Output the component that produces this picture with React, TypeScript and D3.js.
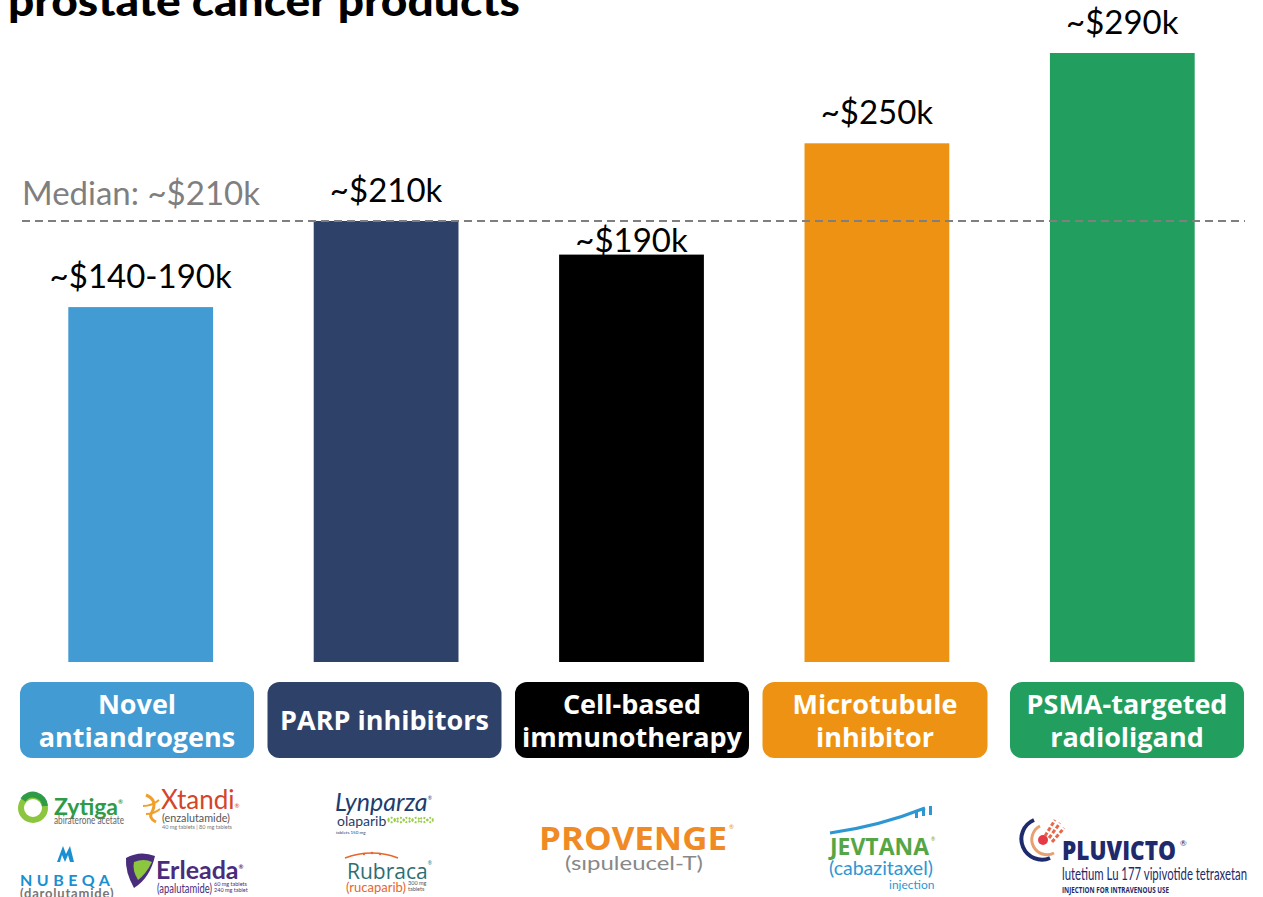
import React from "react";
import * as d3 from "d3";

const W = 1263;
const H = 897;

const categories = ["Novel antiandrogens", "PARP inhibitors", "Cell-based immunotherapy", "Microtubule inhibitor", "PSMA-targeted radioligand"];
const categoryLines = [["Novel", "antiandrogens"], ["PARP inhibitors"], ["Cell-based", "immunotherapy"], ["Microtubule", "inhibitor"], ["PSMA-targeted", "radioligand"]];
const values = [169, 210, 194, 247, 290];
const valueLabels = ["~$140-190k", "~$210k", "~$190k", "~$250k", "~$290k"];
const colors = ["#429bd2", "#2e4169", "#000000", "#ee9213", "#229f5f"];
const medianValue = 210;
const medianLabel = "Median: ~$210k";
const title = "prostate cancer products";

const FONT = "Lato, 'Open Sans', sans-serif";
const BOLD = "'Open Sans', Lato, sans-serif";

export default function App() {
  const y = d3.scaleLinear().domain([0, 300]).range([662, 32]);
  const x = d3.scaleBand<string>().domain(categories).range([18, 1245]).paddingInner(0.41).paddingOuter(0.205);
  const bx = d3.scaleBand<string>().domain(categories).range([20, 1244]).paddingInner(0.0545).paddingOuter(0);
  const my = y(medianValue);

  return (
    <svg width={W} height={H} style={{ position: "absolute", left: 0, top: 0, display: "block", background: "#fff" }}>
      <text x={8} y={16} fontFamily={FONT} fontWeight={900} fontSize={42} fill="#000" textLength={512} lengthAdjust="spacingAndGlyphs">{title}</text>

      {categories.map((c, i) => (
        <rect key={c} x={x(c)} y={y(values[i])} width={x.bandwidth()} height={y(0) - y(values[i])} fill={colors[i]} />
      ))}

      <line x1={22} x2={1245} y1={my} y2={my} stroke="#7f7f7f" strokeWidth={2} strokeDasharray="8,5" />
      <text x={22} y={my - 16} fontFamily={FONT} fontSize={33} fill="#7f7f7f">{medianLabel}</text>

      {categories.map((c, i) => (
        <text key={c} x={(x(c) as number) + x.bandwidth() / 2} y={y(values[i]) - (i === 2 ? 3 : 19)} textAnchor="middle" fontFamily={FONT} fontSize={33} fill="#000">
          {valueLabels[i]}
        </text>
      ))}

      {categories.map((c, i) => {
        const x0 = bx(c) as number;
        const w = i === 3 ? bx.bandwidth() - 9 : bx.bandwidth();
        const cx = x0 + w / 2;
        const lines = categoryLines[i];
        return (
          <g key={c}>
            <rect x={x0} y={682} width={w} height={76} rx={12} fill={colors[i]} />
            {lines.map((l, j) => (
              <text key={j} x={cx} y={lines.length === 1 ? 730 : 714 + j * 33} textAnchor="middle" fontFamily={BOLD} fontWeight={700} fontSize={27} fill="#fff">
                {l}
              </text>
            ))}
          </g>
        );
      })}

      {/* Logos */}
      <g>
        {/* Zytiga */}
        <circle cx={33} cy={808} r={12} fill="none" stroke="#8cc63e" strokeWidth={6} />
        <path d="M23,800 A12,12 0 0 1 45,806" fill="none" stroke="#2e9b47" strokeWidth={6} />
        <text x={54} y={815} fontFamily={FONT} fontWeight={700} fontSize={23} fill="#2e9b47">Zytiga<tspan fontSize={6} dy={-11}>®</tspan></text>
        <text x={54} y={824} fontFamily={FONT} fontSize={10.5} fill="#666" textLength={70} lengthAdjust="spacingAndGlyphs">abiraterone acetate</text>

        {/* Xtandi */}
        <path d="M146,795 Q158,800 152,812 Q148,818 156,822" fill="none" stroke="#f0a02a" strokeWidth={3} />
        <path d="M143,806 Q152,806 159,800" fill="none" stroke="#f0a02a" strokeWidth={2} />
        <path d="M146,814 Q154,814 160,809" fill="none" stroke="#f0a02a" strokeWidth={2} />
        <text x={161} y={809} fontFamily={FONT} fontSize={26} fill="#d4452a">Xtandi<tspan fontSize={6} dy={-1}>®</tspan></text>
        <text x={162} y={822} fontFamily={FONT} fontSize={12} fill="#555" textLength={68} lengthAdjust="spacingAndGlyphs">(enzalutamide)</text>
        <text x={162} y={829} fontFamily={FONT} fontSize={5.5} fill="#777">40 mg tablets | 80 mg tablets</text>

        {/* NUBEQA */}
        <path d="M57,862 L63,846 L66,854 L70,846 L74,862 L70,862 L68,855 L65,862 L62,855 L60,862 Z" fill="#1a8fd1" />
        <text x={20} y={886} fontFamily={FONT} fontWeight={700} fontSize={16} fill="#1a8fd1" letterSpacing={4.5}>NUBEQA</text>
        <text x={20} y={898} fontFamily={FONT} fontWeight={700} fontSize={13} fill="#777" letterSpacing={0.8}>(darolutamide)</text>

        {/* Erleada */}
        <path d="M126,858 Q140,850 155,856 Q150,878 134,888 Q125,872 126,858 Z" fill="#4a2c7d" />
        <path d="M134,862 Q144,858 152,862 Q146,874 138,880 Q132,870 134,862 Z" fill="#8cc63e" />
        <text x={156} y={879} fontFamily={FONT} fontWeight={700} fontSize={25} fill="#4a2c7d">Erleada<tspan fontSize={6} dy={-10}>®</tspan></text>
        <text x={157} y={893} fontFamily={FONT} fontSize={13} fill="#4a2c7d" textLength={55} lengthAdjust="spacingAndGlyphs">(apalutamide)</text>
        <text x={214} y={886} fontFamily={FONT} fontSize={5.5} fill="#4a2c7d">60 mg tablets</text>
        <text x={214} y={892} fontFamily={FONT} fontSize={5.5} fill="#4a2c7d">240 mg tablet</text>

        {/* Lynparza */}
        <text x={335} y={811} fontFamily={FONT} fontStyle="italic" fontSize={25} fill="#1d3e6e">Lynparza<tspan fontSize={5} dy={-11}>®</tspan></text>
        <text x={337} y={826} fontFamily={FONT} fontSize={14} fill="#1d3e6e">olaparib</text>
        <path d="M388,820 C393,812 398,828 404,820 C409,812 414,828 420,820 C425,812 430,828 433,820" fill="none" stroke="#9acd4b" strokeWidth={2} strokeDasharray="2,1.5" />
        <path d="M388,820 C393,828 398,812 404,820 C409,828 414,812 420,820 C425,828 430,812 433,820" fill="none" stroke="#9acd4b" strokeWidth={2} strokeDasharray="2,1.5" />
        <text x={336} y={834} fontFamily={FONT} fontSize={4.5} fill="#1d3e6e">tablets 150 mg</text>

        {/* Rubraca */}
        <path d="M345,858 Q372,848 398,858" fill="none" stroke="#e8662b" strokeWidth={1.5} />
        <circle cx={372} cy={853} r={1.2} fill="#e8662b" />
        <circle cx={364} cy={854} r={1.2} fill="#e8662b" />
        <circle cx={380} cy={854} r={1.2} fill="#e8662b" />
        <text x={347} y={879} fontFamily={BOLD} fontSize={21} fill="#2d6e74">Rubraca<tspan fontSize={5} dy={-14}>®</tspan></text>
        <text x={346} y={892} fontFamily={FONT} fontSize={13} fill="#e8662b">(rucaparib)</text>
        <text x={408} y={885} fontFamily={FONT} fontSize={5.5} fill="#555">300 mg</text>
        <text x={408} y={891} fontFamily={FONT} fontSize={5.5} fill="#555">tablets</text>

        {/* Provenge */}
        <text x={539} y={850} fontFamily={BOLD} fontWeight={700} fontSize={33} fill="#f08a24" textLength={188} lengthAdjust="spacingAndGlyphs">PROVENGE</text>
        <text x={729} y={829} fontFamily={FONT} fontSize={6} fill="#f08a24">®</text>
        <text x={565} y={870} fontFamily={FONT} fontSize={20} fill="#888" textLength={138} lengthAdjust="spacingAndGlyphs">(sıpuleucel-T)</text>

        {/* Jevtana */}
        <path d="M830,833 Q880,826 925,808" fill="none" stroke="#2d97d3" strokeWidth={3} />
        <rect x={915} y={811} width={3} height={7} fill="#2d97d3" />
        <rect x={922} y={808} width={3} height={8} fill="#2d97d3" />
        <rect x={929} y={806} width={3} height={9} fill="#2d97d3" />
        <text x={830} y={855} fontFamily={BOLD} fontWeight={700} fontSize={24} fill="#55a647" textLength={99} lengthAdjust="spacingAndGlyphs">JEVTANA</text>
        <text x={931} y={841} fontFamily={FONT} fontSize={5} fill="#55a647">®</text>
        <text x={829} y={875} fontFamily={FONT} fontSize={20} fill="#2d97d3" textLength={104} lengthAdjust="spacingAndGlyphs">(cabazitaxel)</text>
        <text x={889} y={889} fontFamily={FONT} fontSize={12} fill="#2d97d3">injection</text>

        {/* Pluvicto */}
        <path d="M1034,820 A18,18 0 0 0 1050,858" fill="none" stroke="#1e2a6b" strokeWidth={4} />
        <path d="M1040,826 A13,13 0 0 0 1054,853" fill="none" stroke="#e8a070" strokeWidth={3} />
        <circle cx={1043} cy={840} r={5} fill="#e63946" />
        <path d="M1045,836 L1055,820 M1049,838 L1060,823 M1052,842 L1064,828" stroke="#e8664a" strokeWidth={3} strokeDasharray="4,2" />
        <text x={1062} y={860} fontFamily={BOLD} fontWeight={800} fontSize={26} fill="#1e2a6b" textLength={114} lengthAdjust="spacingAndGlyphs">PLUVICTO</text>
        <text x={1180} y={846} fontFamily={FONT} fontSize={8} fill="#1e2a6b">®</text>
        <text x={1062} y={880} fontFamily={FONT} fontSize={17} fill="#1e2a6b" textLength={185} lengthAdjust="spacingAndGlyphs">lutetium Lu 177 vipivotide tetraxetan</text>
        <text x={1062} y={893} fontFamily={BOLD} fontWeight={700} fontSize={8} fill="#1e2a6b" textLength={107} lengthAdjust="spacingAndGlyphs">INJECTION FOR INTRAVENOUS USE</text>
      </g>
    </svg>
  );
}
